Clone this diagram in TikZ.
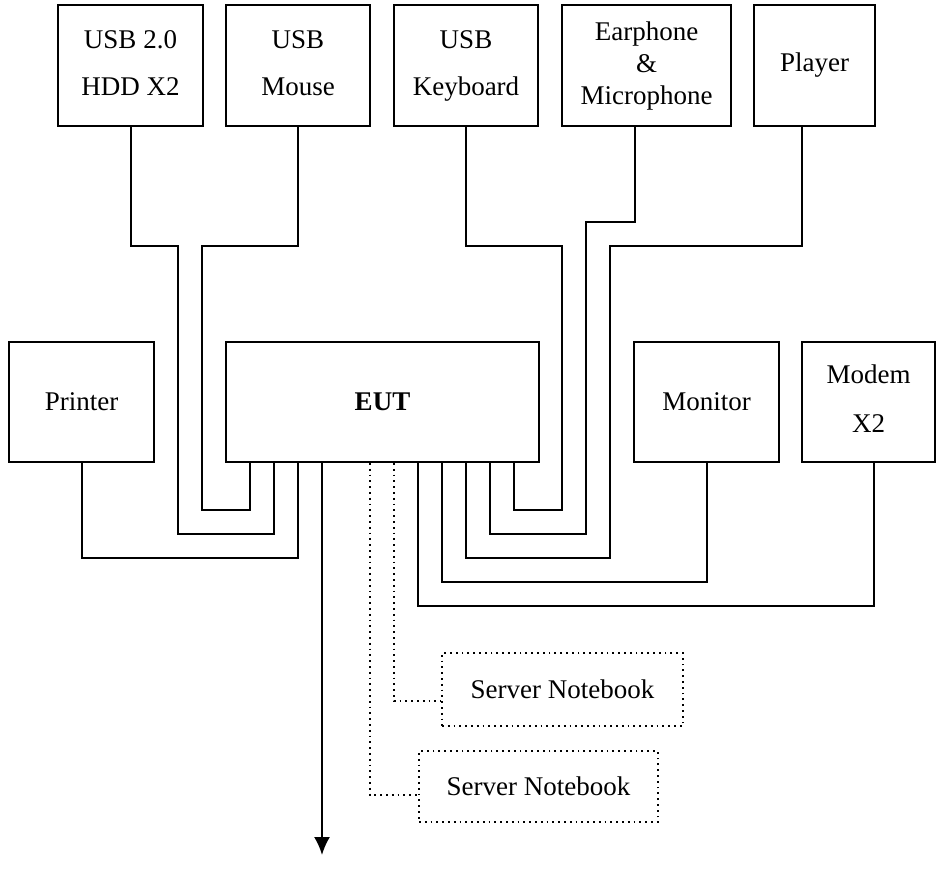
\documentclass[tikz,border=0pt]{standalone}
\usepackage{fontspec}
\setmainfont{Liberation Serif}
\usepackage{tikz}
\usetikzlibrary{arrows,arrows.meta,calc,positioning}

\tikzset{
  unit/.style={draw, line width=1pt, inner sep=0pt, align=center, minimum height=60.5pt},
  cable/.style={line width=1pt},
  lan/.style={line width=0.9pt, dotted}
}

\begin{document}
\begin{tikzpicture}[x=0.5pt, y=-0.5pt, font=\fontsize{13.5}{16}\selectfont]
				\useasboundingbox (0,0) rectangle (936,869);
				% peripherals on top
				\node[unit, minimum width=72.5pt] (hdd) at (130.5,65.5) {\strut USB 2.0\\[7.5pt]\strut HDD X2};
				\node[unit, minimum width=72pt] (mouse) at (298,65.5) {\strut USB\\[7.5pt]\strut Mouse};
				\node[unit, minimum width=72pt] (keyboard) at (466,65.5) {\strut USB\\[7.5pt]\strut Keyboard};
				\node[unit, minimum width=84.5pt] (earphone) at (646.5,65.5) {Earphone\\\&\\Microphone};
				\node[unit, minimum width=60.5pt] (player) at (814.5,65.5) {Player};
				% middle row
				\node[unit, minimum width=72.5pt, minimum height=60pt] (printer) at (81.5,402) {Printer};
				\node[unit, minimum width=156.5pt, minimum height=60pt] (eut) at (382.5,402) {\textbf{EUT}};
				\node[unit, minimum width=72.5pt, minimum height=60pt] (monitor) at (706.5,402) {Monitor};
				\node[unit, minimum width=66.5pt, minimum height=60pt] (modem) at (868.5,402) {\strut Modem\\[8.5pt]\strut X2};
				% remote side
				\node[unit, lan, minimum width=120.5pt, minimum height=36.5pt] (srvA) at (562.5,689.5) {Server Notebook};
				\node[unit, lan, minimum width=119.5pt, minimum height=35.5pt] (srvB) at (538.5,786.5) {Server Notebook};
				\coordinate (ground) at (322,855);

				% cables on the left
				\draw[cable] (mouse.south) |- (202,246) |- (250,510) -- (250,0 |- eut.south);
				\draw[cable] (hdd.south) |- (178,246) |- (274,534) -- (274,0 |- eut.south);
				\draw[cable] (printer.south) |- (298,558) -- (298,0 |- eut.south);
				% cables on the right
				\draw[cable] (keyboard.south) |- (562,246) |- (514,510) -- (514,0 |- eut.south);
				\draw[cable] (635,0 |- earphone.south) |- (586,222) |- (490,534) -- (490,0 |- eut.south);
				\draw[cable] (802,0 |- player.south) |- (610,246) |- (466,558) -- (466,0 |- eut.south);
				\draw[cable] (monitor.south) |- (442,582) -- (442,0 |- eut.south);
				\draw[cable] (874,0 |- modem.south) |- (418,606) -- (418,0 |- eut.south);
				% LAN
				\draw[lan] (394,0 |- eut.south) |- (srvA.west |- 0,701);
				\draw[lan] (370,0 |- eut.south) |- (srvB.west |- 0,795);
				\draw[cable, -{Latex[length=9pt,width=8pt]}] (322,0 |- eut.south) -- (ground);
\end{tikzpicture}
\end{document}
